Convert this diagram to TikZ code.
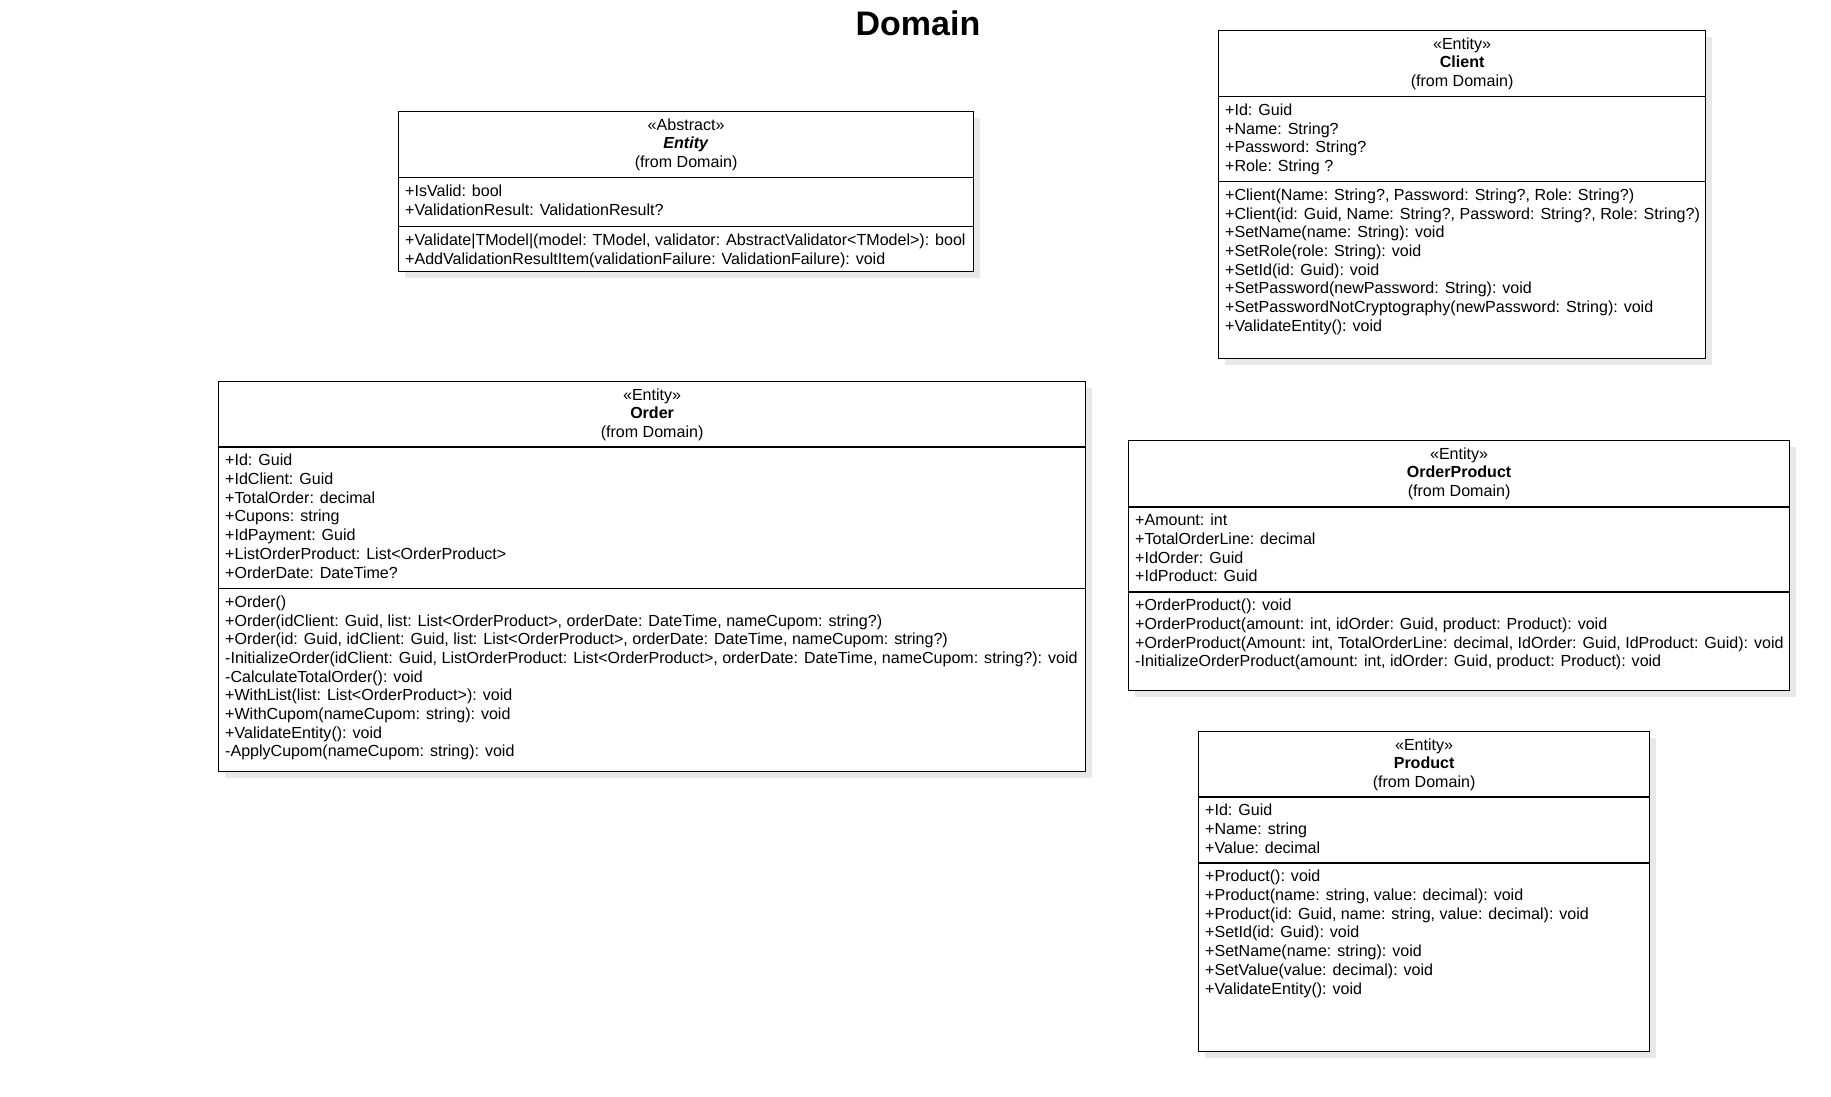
\documentclass[tikz,border=0pt]{standalone}
\usepackage{fontspec}
\setmainfont{Liberation Sans}
\usetikzlibrary{positioning, shadows}
\newcommand\umlfont{\fontsize{16.05}{18.7}\selectfont}

\begin{document}
\begin{tikzpicture}[
  x=1pt, y=-1pt,
  umlbox/.style={draw, line width=1.2pt, fill=white, anchor=north west, inner sep=0pt,
    drop shadow={shadow xshift=6pt, shadow yshift=-6pt, fill=black!9, opacity=1}},
  head/.style={align=center, inner sep=0pt, font=\umlfont, execute at begin node=\strut},
  members/.style={align=left, inner sep=0pt, font=\umlfont, execute at begin node=\strut},
  divider/.style={line width=1.2pt},
  title/.style={anchor=base, font=\fontsize{34}{40}\selectfont\bfseries}
]
\useasboundingbox (0,0) rectangle (1831,1096);

\node[title] (title) at (918,35) {Domain};

% Entity
\node[umlbox, minimum width=575pt, minimum height=160pt] (entity) at (398,111) {};
\node[head, below=7.2pt of entity.north] (entity-head) {«Abstract»\\\textbf{\textit{Entity}}\\(from Domain)};
\coordinate (entity-s1) at (398,177.5);
\coordinate (entity-s2) at (398,226.5);
\draw[divider] (entity-s1) -- (entity-s1 -| entity.east);
\draw[divider] (entity-s2) -- (entity-s2 -| entity.east);
\node[members, below right=7pt and 7pt of entity-s1] (entity-attr) {+IsValid: bool\\+ValidationResult: ValidationResult?};
\node[members, below right=7pt and 7pt of entity-s2] (entity-ops) {+Validate|TModel|(model: TModel, validator: AbstractValidator<TModel>): bool\\+AddValidationResultItem(validationFailure: ValidationFailure): void};

% Client
\node[umlbox, minimum width=487pt, minimum height=328pt] (client) at (1218,30) {};
\node[head, below=7.2pt of client.north] (client-head) {«Entity»\\\textbf{Client}\\(from Domain)};
\coordinate (client-s1) at (1218,96.5);
\coordinate (client-s2) at (1218,181.5);
\draw[divider] (client-s1) -- (client-s1 -| client.east);
\draw[divider] (client-s2) -- (client-s2 -| client.east);
\node[members, below right=7pt and 7pt of client-s1] (client-attr) {+Id: Guid\\+Name: String?\\+Password: String?\\+Role: String ?};
\node[members, below right=7pt and 7pt of client-s2] (client-ops) {+Client(Name: String?, Password: String?, Role: String?)\\+Client(id: Guid, Name: String?, Password: String?, Role: String?)\\+SetName(name: String): void\\+SetRole(role: String): void\\+SetId(id: Guid): void\\+SetPassword(newPassword: String): void\\+SetPasswordNotCryptography(newPassword: String): void\\+ValidateEntity(): void};

% Order
\node[umlbox, minimum width=867pt, minimum height=390pt] (order) at (218,381) {};
\node[head, below=7.2pt of order.north] (order-head) {«Entity»\\\textbf{Order}\\(from Domain)};
\coordinate (order-s1) at (218,447);
\coordinate (order-s2) at (218,588.5);
\draw[divider] (order-s1) -- (order-s1 -| order.east);
\draw[divider] (order-s2) -- (order-s2 -| order.east);
\node[members, below right=7pt and 7pt of order-s1] (order-attr) {+Id: Guid\\+IdClient: Guid\\+TotalOrder: decimal\\+Cupons: string\\+IdPayment: Guid\\+ListOrderProduct: List<OrderProduct>\\+OrderDate: DateTime?};
\node[members, below right=7pt and 7pt of order-s2] (order-ops) {+Order()\\+Order(idClient: Guid, list: List<OrderProduct>, orderDate: DateTime, nameCupom: string?)\\+Order(id: Guid, idClient: Guid, list: List<OrderProduct>, orderDate: DateTime, nameCupom: string?)\\-InitializeOrder(idClient: Guid, ListOrderProduct: List<OrderProduct>, orderDate: DateTime, nameCupom: string?): void\\-CalculateTotalOrder(): void\\+WithList(list: List<OrderProduct>): void\\+WithCupom(nameCupom: string): void\\+ValidateEntity(): void\\-ApplyCupom(nameCupom: string): void};

% OrderProduct
\node[umlbox, minimum width=661pt, minimum height=250pt] (orderproduct) at (1128,440) {};
\node[head, below=7.2pt of orderproduct.north] (orderproduct-head) {«Entity»\\\textbf{OrderProduct}\\(from Domain)};
\coordinate (orderproduct-s1) at (1128,507);
\coordinate (orderproduct-s2) at (1128,592);
\draw[divider] (orderproduct-s1) -- (orderproduct-s1 -| orderproduct.east);
\draw[divider] (orderproduct-s2) -- (orderproduct-s2 -| orderproduct.east);
\node[members, below right=7pt and 7pt of orderproduct-s1] (orderproduct-attr) {+Amount: int\\+TotalOrderLine: decimal\\+IdOrder: Guid\\+IdProduct: Guid};
\node[members, below right=7pt and 7pt of orderproduct-s2] (orderproduct-ops) {+OrderProduct(): void\\+OrderProduct(amount: int, idOrder: Guid, product: Product): void\\+OrderProduct(Amount: int, TotalOrderLine: decimal, IdOrder: Guid, IdProduct: Guid): void\\-InitializeOrderProduct(amount: int, idOrder: Guid, product: Product): void};

% Product
\node[umlbox, minimum width=451pt, minimum height=320pt] (product) at (1198,731) {};
\node[head, below=7.2pt of product.north] (product-head) {«Entity»\\\textbf{Product}\\(from Domain)};
\coordinate (product-s1) at (1198,797);
\coordinate (product-s2) at (1198,863);
\draw[divider] (product-s1) -- (product-s1 -| product.east);
\draw[divider] (product-s2) -- (product-s2 -| product.east);
\node[members, below right=7pt and 7pt of product-s1] (product-attr) {+Id: Guid\\+Name: string\\+Value: decimal};
\node[members, below right=7pt and 7pt of product-s2] (product-ops) {+Product(): void\\+Product(name: string, value: decimal): void\\+Product(id: Guid, name: string, value: decimal): void\\+SetId(id: Guid): void\\+SetName(name: string): void\\+SetValue(value: decimal): void\\+ValidateEntity(): void};
\end{tikzpicture}
\end{document}
